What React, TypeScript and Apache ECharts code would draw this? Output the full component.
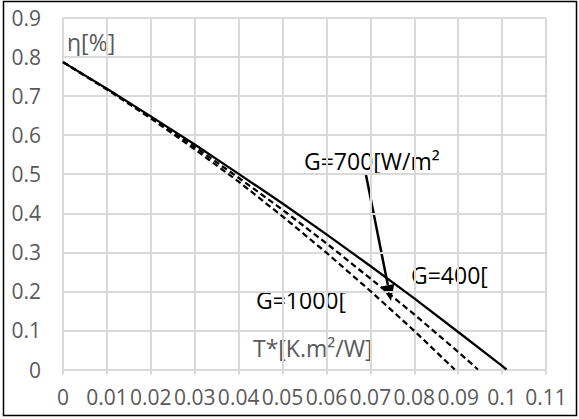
import React, { useEffect, useRef } from "react";
import * as echarts from "echarts";

const tValues = [0, 0.01, 0.02, 0.03, 0.04, 0.05, 0.06, 0.07, 0.08, 0.09, 0.1];
const eta400 = [0.787, 0.719, 0.648, 0.576, 0.501, 0.425, 0.346, 0.265, 0.182, 0.096, 0.009];
const end400 = [0.101, 0];
const eta700 = [0.787, 0.718, 0.646, 0.57, 0.491, 0.409, 0.323, 0.233, 0.141, 0.045];
const end700 = [0.0945, 0];
const eta1000 = [0.787, 0.717, 0.643, 0.564, 0.481, 0.392, 0.299, 0.201, 0.099];
const end1000 = [0.0892, 0];

const xTicks = { min: 0, max: 0.11, interval: 0.01 };
const yTicks = { min: 0, max: 0.9, interval: 0.1 };

const FONT = "Open Sans";
const GRAY = "#595959";
const GRID = "#d9d9d9";

function pairs(vals: number[], end: number[]) {
  const d = vals.map((v, i) => [tValues[i], v]);
  d.push(end);
  return d;
}

export default function App() {
  const ref = useRef<HTMLDivElement>(null);
  useEffect(() => {
    const chart = echarts.init(ref.current!, null, { renderer: "svg" });
    const arrowTip = [391, 301];
    const arrowStart = [366, 175];
    const dx = arrowTip[0] - arrowStart[0];
    const dy = arrowTip[1] - arrowStart[1];
    const len = Math.sqrt(dx * dx + dy * dy);
    const ux = dx / len, uy = dy / len;
    const headL = 16, headW = 6.5;
    const bx = arrowTip[0] - headL * ux, by = arrowTip[1] - headL * uy;
    chart.setOption({
      animation: false,
      backgroundColor: "#ffffff",
      grid: { left: 63, top: 18, right: 33, bottom: 49.5, containLabel: false },
      xAxis: {
        type: "value",
        ...xTicks,
        axisLine: { show: true, lineStyle: { color: GRID, width: 2 } },
        axisTick: { show: true, length: 5, lineStyle: { color: GRID, width: 2 } },
        splitLine: { show: true, lineStyle: { color: GRID, width: 2 } },
        axisLabel: { color: GRAY, fontFamily: FONT, fontSize: 21, margin: 17 },
      },
      yAxis: {
        type: "value",
        ...yTicks,
        axisLine: { show: false },
        axisTick: { show: false },
        splitLine: { show: true, lineStyle: { color: GRID, width: 2 } },
        axisLabel: { color: GRAY, fontFamily: FONT, fontSize: 21, margin: 22 },
      },
      series: [
        {
          name: "G=400",
          type: "line",
          showSymbol: false,
          data: pairs(eta400, end400),
          lineStyle: { color: "#000", width: 2.25 },
        },
        {
          name: "G=700",
          type: "line",
          showSymbol: false,
          data: pairs(eta700, end700),
          lineStyle: { color: "#000", width: 2.25, type: [6, 3.5] },
        },
        {
          name: "G=1000",
          type: "line",
          showSymbol: false,
          data: pairs(eta1000, end1000),
          lineStyle: { color: "#000", width: 2.25, type: [6, 3.5] },
        },
      ],
      graphic: [
        {
          type: "rect",
          shape: { x: 3.5, y: 1.5, width: 573, height: 414 },
          style: { fill: "none", stroke: "#000", lineWidth: 1.5 },
          silent: true,
        },
        {
          type: "text",
          x: 67, y: 42,
          style: { text: "η[%]", fill: GRAY, font: `23px '${FONT}'`, verticalAlign: "middle" },
        },
        {
          type: "text",
          x: 253, y: 348,
          style: { text: "T*[K.m²/W]", fill: GRAY, font: `23px '${FONT}'`, verticalAlign: "middle" },
        },
        {
          type: "text",
          x: 304, y: 161,
          style: { text: "G=700[W/m²", fill: "#000", font: `23px '${FONT}'`, verticalAlign: "middle" },
        },
        {
          type: "text",
          x: 411, y: 275,
          style: { text: "G=400[", fill: "#000", font: `23px '${FONT}'`, verticalAlign: "middle" },
        },
        {
          type: "text",
          x: 256, y: 300,
          style: { text: "G=1000[", fill: "#000", font: `23px '${FONT}'`, verticalAlign: "middle" },
        },
        {
          type: "line",
          shape: { x1: arrowStart[0], y1: arrowStart[1], x2: bx, y2: by },
          style: { stroke: "#000", lineWidth: 2.5 },
        },
        {
          type: "polygon",
          shape: {
            points: [
              [arrowTip[0], arrowTip[1]],
              [bx + headW * uy, by - headW * ux],
              [bx - headW * uy, by + headW * ux],
            ],
          },
          style: { fill: "#000" },
        },
      ],
    });
    return () => chart.dispose();
  }, []);
  return (
    <div
      ref={ref}
      style={{ position: "fixed", left: 0, top: 0, width: 579, height: 419 }}
    />
  );
}
